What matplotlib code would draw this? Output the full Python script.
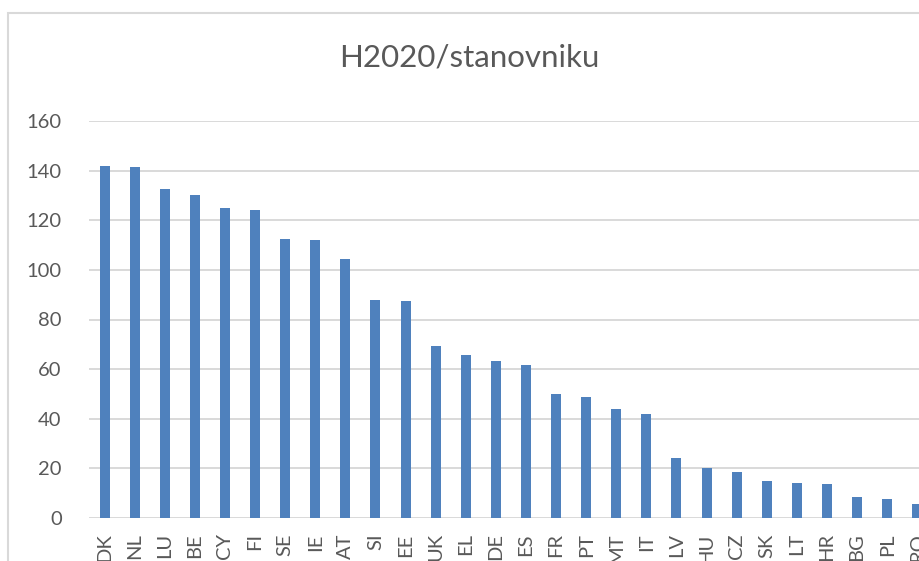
import matplotlib
matplotlib.use("Agg")
import matplotlib.pyplot as plt
from matplotlib.patches import Rectangle

# --- podaci ---
drzave = ['DK', 'NL', 'LU', 'BE', 'CY', 'FI', 'SE', 'IE', 'AT', 'SI', 'EE', 'UK', 'EL', 'DE',
          'ES', 'FR', 'PT', 'MT', 'IT', 'LV', 'HU', 'CZ', 'SK', 'LT', 'HR', 'BG', 'PL', 'RO']
vrijednosti = [142, 141.5, 132.5, 130, 125, 124, 112.5, 112, 104.5, 88, 87.5, 69.4, 65.7, 63.3,
               61.7, 50, 48.9, 44, 42, 24, 20.2, 18.7, 14.8, 14.2, 13.7, 8.3, 7.8, 5.8]
y_ticks = [0, 20, 40, 60, 80, 100, 120, 140, 160]

plt.rcParams['font.family'] = ['Lato', 'DejaVu Sans']
siva = '#595959'
linija = '#d9d9d9'

W, H = 920, 561
fig = plt.figure(figsize=(W / 100, H / 100), dpi=100)

# okvir grafikona (Excel chart area), desno i dolje odrezan
fig.patches.append(Rectangle((8 / W, -0.1), 1.1, (H - 13) / H + 0.1, transform=fig.transFigure,
                             fill=False, edgecolor=linija, linewidth=1.5))

# os je šira od slike - zadnji stupci su odrezani kao u originalu
ax = fig.add_axes([89.5 / W, (H - 518) / H, 28 * 30.1 / W, (518 - 121) / H])
x = range(len(drzave))
ax.bar(x, vrijednosti, width=0.33, color='#4f81bd', zorder=3)

ax.set_xlim(-0.5, len(drzave) - 0.5)
ax.set_ylim(0, 160)
ax.set_yticks(y_ticks)
ax.set_xticks(list(x))
ax.set_xticklabels(drzave, rotation=90)
ax.grid(axis='y', color=linija, linewidth=1.4, zorder=0)
for s in ax.spines.values():
    s.set_visible(False)
ax.tick_params(length=0, labelsize=14.5, labelcolor=siva)
ax.tick_params(axis='y', pad=20)
ax.tick_params(axis='x', pad=11)

fig.text(469 / W, 1 - 57 / H, 'H2020/stanovniku', ha='center', va='center', fontsize=22.5, color=siva)

fig.savefig('out.png', dpi=100)
